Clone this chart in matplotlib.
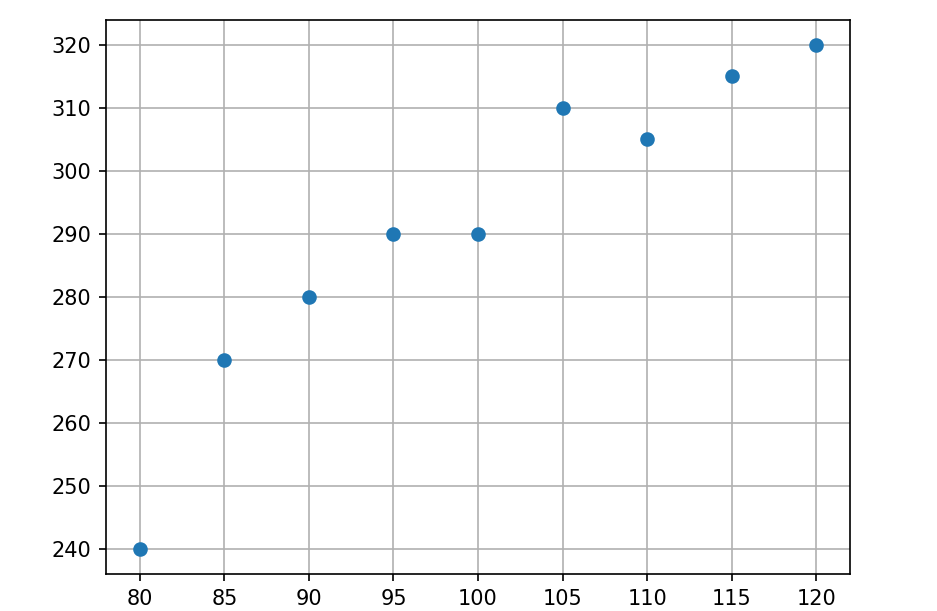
import matplotlib.pyplot as plt

x_vals = [80, 85, 90, 95, 100, 105, 110, 115, 120]
y_vals = [240, 270, 280, 290, 290, 310, 305, 315, 320]

fig = plt.figure(figsize=(937 / 150, 611 / 150), dpi=150)
ax = fig.add_axes([106 / 937, 1 - 574 / 611, (850 - 106) / 937, (574 - 19.5) / 611])

ax.scatter(x_vals, y_vals, color='#1f77b4', zorder=3)
ax.grid(True)
ax.set_xticks(x_vals)

fig.savefig('out.png', dpi=150)
